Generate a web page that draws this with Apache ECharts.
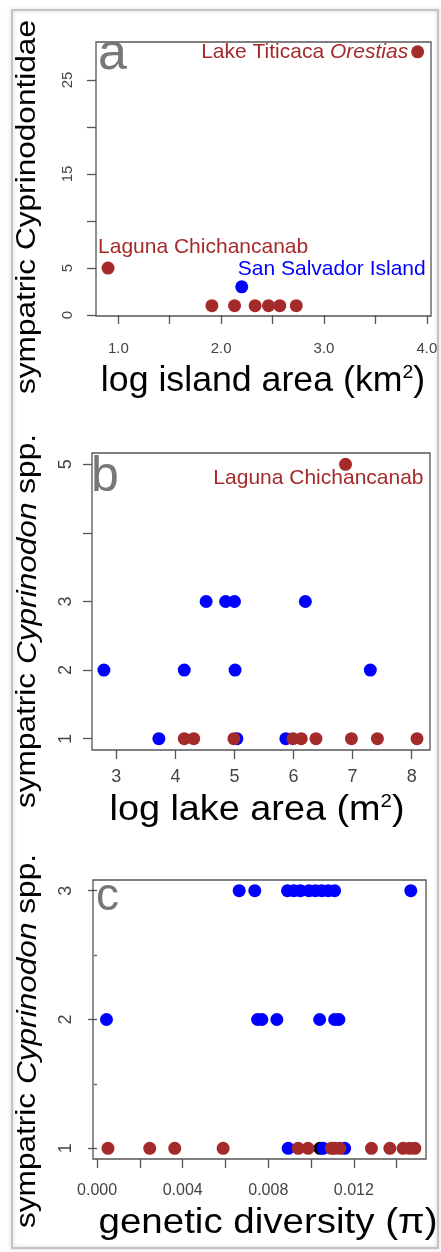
<!DOCTYPE html>
<html>
<head>
<meta charset="utf-8">
<title>Sympatric species vs area and diversity</title>
<script src="https://cdn.jsdelivr.net/npm/echarts@6/dist/echarts.min.js"></script>
<style>
  html, body { margin: 0; padding: 0; background: #fff; }
  #chart { width: 441px; height: 1252px; }
</style>
</head>
<body>
<div id="chart"></div>
<script>
// panel a: log island area (km2) vs sympatric Cyprinodontidae
var aBrownX = [0.90, 1.91, 2.13, 2.33, 2.46, 2.57, 2.73, 3.91];
var aBrownY = [5, 1, 1, 1, 1, 1, 1, 28];
var aBlueX = [2.20];
var aBlueY = [3];
var aXTicks = [1, 1.5, 2, 2.5, 3, 3.5, 4];
var aXLabels = [1, 2, 3, 4];
var aYTicks = [0, 5, 10, 15, 20, 25];
var aYLabels = [0, 5, 15, 25];

// panel b: log lake area (m2) vs sympatric Cyprinodon spp.
var bBlueX = [2.79, 4.15, 5.01, 7.30, 4.52, 4.85, 5.00, 6.20, 3.72, 5.04, 5.87];
var bBlueY = [2, 2, 2, 2, 3, 3, 3, 3, 1, 1, 1];
var bBrownX = [6.88, 4.15, 4.31, 4.99, 5.99, 6.13, 6.38, 6.98, 7.42, 8.09];
var bBrownY = [5, 1, 1, 1, 1, 1, 1, 1, 1, 1];
var bXTicks = [3, 4, 5, 6, 7, 8];
var bYTicks = [1, 2, 3, 4, 5];
var bYLabels = [1, 2, 3, 5];

// panel c: genetic diversity (pi) vs sympatric Cyprinodon spp.
var cBlueX = [0.00664, 0.00737, 0.0089, 0.0092, 0.0095, 0.0099, 0.0102, 0.0105, 0.0108, 0.0111, 0.01466,
              0.00044, 0.0075, 0.0077, 0.0084, 0.0104, 0.0111, 0.0113,
              0.00893, 0.01056, 0.01157];
var cBlueY = [3, 3, 3, 3, 3, 3, 3, 3, 3, 3, 3,
              2, 2, 2, 2, 2, 2, 2,
              1, 1, 1];
var cBrownX = [0.00051, 0.00246, 0.00363, 0.00589, 0.0094, 0.00986, 0.01095, 0.0111, 0.01134,
               0.01282, 0.01368, 0.0143, 0.0146, 0.01485];
var cBrownY = [1, 1, 1, 1, 1, 1, 1, 1, 1, 1, 1, 1, 1, 1];
var cBlackX = [0.01041];
var cBlackY = [1];
var cXTicks = [0, 0.002, 0.004, 0.006, 0.008, 0.010, 0.012, 0.014];
var cXLabels = [0, 0.004, 0.008, 0.012];
var cYTicks = [1, 2, 3];
var cYMinor = [1.5, 2.5];

var FONT = '"Liberation Sans", Arial, Helvetica, sans-serif';
var BROWN = '#a52a2a';
var BLUE = '#0000ff';
var TICK = '#555';
var LAB = '#444';

function pts(xs, ys) {
  return xs.map(function (x, i) { return [x, ys[i]]; });
}

function xAx(gi, min, max, ticks, labels, fmt, fs, margin) {
  return {
    type: 'value', gridIndex: gi, min: min, max: max,
    splitLine: { show: false }, axisLine: { show: false },
    axisTick: { show: true, length: 9, customValues: ticks, lineStyle: { color: TICK, width: 1.3 } },
    axisLabel: { customValues: labels, formatter: fmt, color: LAB, fontSize: fs, fontFamily: FONT, margin: margin }
  };
}

function yAx(gi, min, max, ticks, labels, fs, margin) {
  return {
    type: 'value', gridIndex: gi, min: min, max: max,
    splitLine: { show: false }, axisLine: { show: false },
    axisTick: { show: true, length: 9, customValues: ticks, lineStyle: { color: TICK, width: 1.3 } },
    axisLabel: { customValues: labels, rotate: 90, color: LAB, fontSize: fs, fontFamily: FONT, margin: margin }
  };
}

function sc(xi, data, color, z) {
  return { type: 'scatter', xAxisIndex: xi, yAxisIndex: xi, symbolSize: 13, z: z,
           itemStyle: { color: color, opacity: 1 }, data: data, silent: true };
}

var ptLabel = { fontSize: 21, fontFamily: FONT };

var aBrown = pts(aBrownX, aBrownY);
aBrown[0] = { value: aBrown[0], label: { show: true, position: 'inside', align: 'left', verticalAlign: 'middle',
  offset: [-10, -21], formatter: 'Laguna Chichancanab', color: BROWN, fontSize: 21, fontFamily: FONT } };
aBrown[7] = { value: aBrown[7], label: { show: true, position: 'left', distance: 3,
  formatter: '{n|Lake Titicaca }{i|Orestias}',
  rich: { n: { color: BROWN, fontSize: 21, fontFamily: FONT }, i: { color: BROWN, fontSize: 21, fontFamily: FONT, fontStyle: 'italic' } } } };
var aBlue = pts(aBlueX, aBlueY);
aBlue[0] = { value: aBlue[0], label: { show: true, position: 'inside', align: 'left', verticalAlign: 'middle',
  offset: [-4, -18], formatter: 'San Salvador Island', color: BLUE, fontSize: 21, fontFamily: FONT } };

var bBrown = pts(bBrownX, bBrownY);
bBrown[0] = { value: bBrown[0], label: { show: true, position: 'inside', align: 'right', verticalAlign: 'middle',
  offset: [78, 14], formatter: 'Laguna Chichancanab', color: BROWN, fontSize: 21, fontFamily: FONT } };

function title(x, y, rot, sx, text, rich) {
  return { type: 'text', x: x, y: y, rotation: rot, scaleX: sx, z: 10,
           style: { text: text, rich: rich, fill: '#000', align: 'center', verticalAlign: 'middle', fontFamily: FONT } };
}

var yRich = {
  t: { fontSize: 27, fontFamily: FONT, fill: '#000' },
  i: { fontSize: 27, fontFamily: FONT, fill: '#000', fontStyle: 'italic' }
};
var xRich = {
  t: { fontSize: 35, fontFamily: FONT, fill: '#000' },
  s: { fontSize: 19, fontFamily: FONT, fill: '#000', verticalAlign: 'top' }
};

function letter(x, y, txt, fs) {
  return { type: 'text', x: x, y: y, z: 10,
           style: { text: txt, fill: '#777', fontSize: fs, fontFamily: FONT, align: 'left', verticalAlign: 'middle' } };
}

var chart = echarts.init(document.getElementById('chart'), null, { renderer: 'canvas' });

chart.setOption({
  animation: false,
  backgroundColor: '#fff',
  grid: [
    { left: 96, top: 42, width: 335, height: 274, show: true, borderColor: '#555', borderWidth: 1.3, backgroundColor: 'transparent' },
    { left: 92, top: 453, width: 338, height: 297, show: true, borderColor: '#555', borderWidth: 1.3, backgroundColor: 'transparent' },
    { left: 93, top: 880, width: 333, height: 279, show: true, borderColor: '#555', borderWidth: 1.3, backgroundColor: 'transparent' }
  ],
  xAxis: [
    xAx(0, 0.783, 4.04, aXTicks, aXLabels, function (v) { return v.toFixed(1); }, 15, 25),
    xAx(1, 2.588, 8.31, bXTicks, bXTicks, function (v) { return String(v); }, 18, 18),
    xAx(2, -0.00019, 0.01537, cXTicks, cXLabels, function (v) { return v.toFixed(3); }, 16, 24),
    // helper x axis for the minor y ticks of panel c
    { type: 'value', gridIndex: 2, min: -0.00019, max: 0.01537, show: false }
  ],
  yAxis: [
    yAx(0, -0.1, 29.04, aYTicks, aYLabels, 15, 21),
    yAx(1, 0.835, 5.165, bYTicks, bYLabels, 18, 17),
    yAx(2, 0.917, 3.083, cYTicks, cYTicks, 18, 18),
    {
      type: 'value', gridIndex: 2, min: 0.917, max: 3.083, position: 'left',
      splitLine: { show: false }, axisLine: { show: false }, axisLabel: { show: false },
      axisTick: { show: true, length: 3, customValues: cYMinor, lineStyle: { color: TICK, width: 1.3 } }
    }
  ],
  series: [
    sc(0, aBlue, BLUE, 2),
    sc(0, aBrown, BROWN, 3),
    sc(1, pts(bBlueX, bBlueY), BLUE, 2),
    sc(1, bBrown, BROWN, 3),
    sc(2, pts(cBlackX, cBlackY), '#000', 1),
    sc(2, pts(cBlueX, cBlueY), BLUE, 2),
    sc(2, pts(cBrownX, cBrownY), BROWN, 3)
  ],
  graphic: [
    { type: 'rect', shape: { x: 12, y: 10, width: 426, height: 1238 }, z: 0,
      style: { fill: 'none', stroke: '#b5b5b5', lineWidth: 1.5, shadowBlur: 4, shadowColor: 'rgba(0,0,0,0.25)' } },
    letter(98, 55, 'a', 52),
    letter(91, 477, 'b', 50),
    letter(96, 897, 'c', 46),
    title(28, 207, Math.PI / 2, 1.17, '{t|sympatric Cyprinodontidae}', yRich),
    title(28, 621, Math.PI / 2, 1.17, '{t|sympatric }{i|Cyprinodon}{t| spp.}', yRich),
    title(28, 1041, Math.PI / 2, 1.17, '{t|sympatric }{i|Cyprinodon}{t| spp.}', yRich),
    title(263, 381, 0, 1.02, '{t|log island area (km}{s|2}{t|)}', xRich),
    title(257, 810, 0, 1.08, '{t|log lake area (m}{s|2}{t|)}', xRich),
    title(268, 1223, 0, 1.10, '{t|genetic diversity (π)}', xRich)
  ]
});
</script>
</body>
</html>
